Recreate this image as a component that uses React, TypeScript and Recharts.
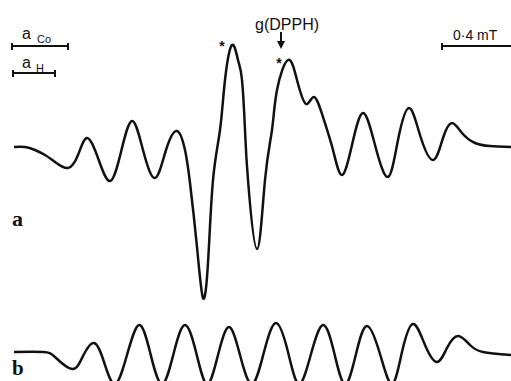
import { LineChart, Line, XAxis, YAxis } from "recharts";

// spectrum a: field (arbitrary units) vs. first-derivative signal
const fieldA = [
  14, 25, 35, 45, 55, 68, 78, 87, 98, 110, 121, 132, 143, 155, 166, 177, 185, 190, 197, 203, 208, 213,
  220, 225, 232, 238, 242, 245, 248, 257, 265, 272, 277, 288, 297, 306, 314, 323, 333, 342, 352, 363,
  375, 388, 398, 409, 420, 433, 443, 452, 462, 475, 490, 511,
];
const signalA = [
  0, 0, -3, -8, -15, -21, -8, 9, -11, -34, -5, 26, -3, -31, -3, 16, -3, -36, -100, -151, -116, -33,
  17, 67, 102, 87, 67, 17, -33, -102, -33, 17, 57, 87, 67, 43, 50, 30, -3, -28, 2, 34,
  2, -30, 7, 39, 12, -13, 9, 24, 14, 4, 1, 0,
];

// spectrum b: simulated
const fieldB = [
  14, 43, 55, 72, 83, 94, 104, 115, 127, 139, 150, 162, 174, 185, 196, 207, 218, 229, 240, 252, 264,
  276, 288, 299, 311, 323, 334, 345, 356, 367, 380, 392, 402, 413, 425, 437, 447, 458, 470, 483, 511,
];
const signalB = [
  0, 0, -5, -17, -4, 9, -10, -32, -3, 27, 0, -32, 0, 27, 0, -32, -3, 25, -3, -32, 0,
  29, 0, -32, -2, 27, 0, -32, -2, 26, -2, -32, 0, 28, 7, -10, 4, 16, 7, 0, -3,
];

const dataA = fieldA.map((f, i) => ({ field: f, signal: signalA[i] }));
const dataB = fieldB.map((f, i) => ({ field: f, signal: signalB[i] }));

const INK = "#111";

function Spectrum({
  data,
  height,
  domain,
}: {
  data: { field: number; signal: number }[];
  height: number;
  domain: [number, number];
}) {
  return (
    <LineChart width={511} height={height} data={data} margin={{ top: 0, right: 0, bottom: 0, left: 0 }}>
      <XAxis dataKey="field" type="number" domain={[0, 511]} hide />
      <YAxis type="number" domain={domain} allowDataOverflow hide />
      <Line
        type="natural"
        dataKey="signal"
        stroke={INK}
        strokeWidth={2.5}
        dot={false}
        isAnimationActive={false}
      />
    </LineChart>
  );
}

export default function App() {
  const sans = "'Liberation Sans', Arial, sans-serif";
  const serif = "'Liberation Serif', 'Times New Roman', serif";
  return (
    <div style={{ position: "absolute", left: 0, top: 0, width: 511, height: 381, background: "#fff", overflow: "hidden" }}>
      <div style={{ position: "absolute", left: 0, top: 0 }}>
        <Spectrum data={dataA} height={310} domain={[-163, 147]} />
      </div>
      <div style={{ position: "absolute", left: 0, top: 310 }}>
        <Spectrum data={dataB} height={71} domain={[-29, 42]} />
      </div>

      {/* annotations */}
      <svg width={511} height={381} style={{ position: "absolute", left: 0, top: 0 }}>
        {/* a_Co scale */}
        <text x={22} y={39} fontFamily={sans} fontSize={16} fill={INK}>a</text>
        <text x={37} y={43} fontFamily={sans} fontSize={11} fill={INK}>Co</text>
        <g stroke={INK} strokeWidth={2}>
          <line x1={12} y1={46} x2={68} y2={46} />
          <line x1={12} y1={43} x2={12} y2={50} />
          <line x1={68} y1={43} x2={68} y2={50} />
        </g>
        {/* a_H scale */}
        <text x={22} y={68} fontFamily={sans} fontSize={16} fill={INK}>a</text>
        <text x={36} y={72} fontFamily={sans} fontSize={11} fill={INK}>H</text>
        <g stroke={INK} strokeWidth={2}>
          <line x1={13} y1={73} x2={55} y2={73} />
          <line x1={13} y1={70} x2={13} y2={77} />
          <line x1={55} y1={70} x2={55} y2={77} />
        </g>
        {/* 0.4 mT scale */}
        <text x={453} y={40} fontFamily={sans} fontSize={14} fill={INK}>0·4 mT</text>
        <g stroke={INK} strokeWidth={2}>
          <line x1={442} y1={46} x2={511} y2={46} />
          <line x1={442} y1={43} x2={442} y2={50} />
        </g>
        {/* g(DPPH) marker */}
        <text x={255} y={30} fontFamily={sans} fontSize={16} fill={INK}>g(DPPH)</text>
        <line x1={281} y1={32} x2={281} y2={44} stroke={INK} strokeWidth={2} />
        <polygon points="277,41 285,41 281,49" fill={INK} />
        {/* asterisks */}
        <text x={222} y={51} fontFamily={sans} fontSize={14} fontWeight="bold" textAnchor="middle" fill={INK}>*</text>
        <text x={279} y={68} fontFamily={sans} fontSize={14} fontWeight="bold" textAnchor="middle" fill={INK}>*</text>
        {/* panel labels */}
        <text x={12} y={226} fontFamily={serif} fontSize={22} fontWeight="bold" fill={INK}>a</text>
        <text x={12} y={375} fontFamily={serif} fontSize={21} fontWeight="bold" fill={INK}>b</text>
      </svg>
    </div>
  );
}
